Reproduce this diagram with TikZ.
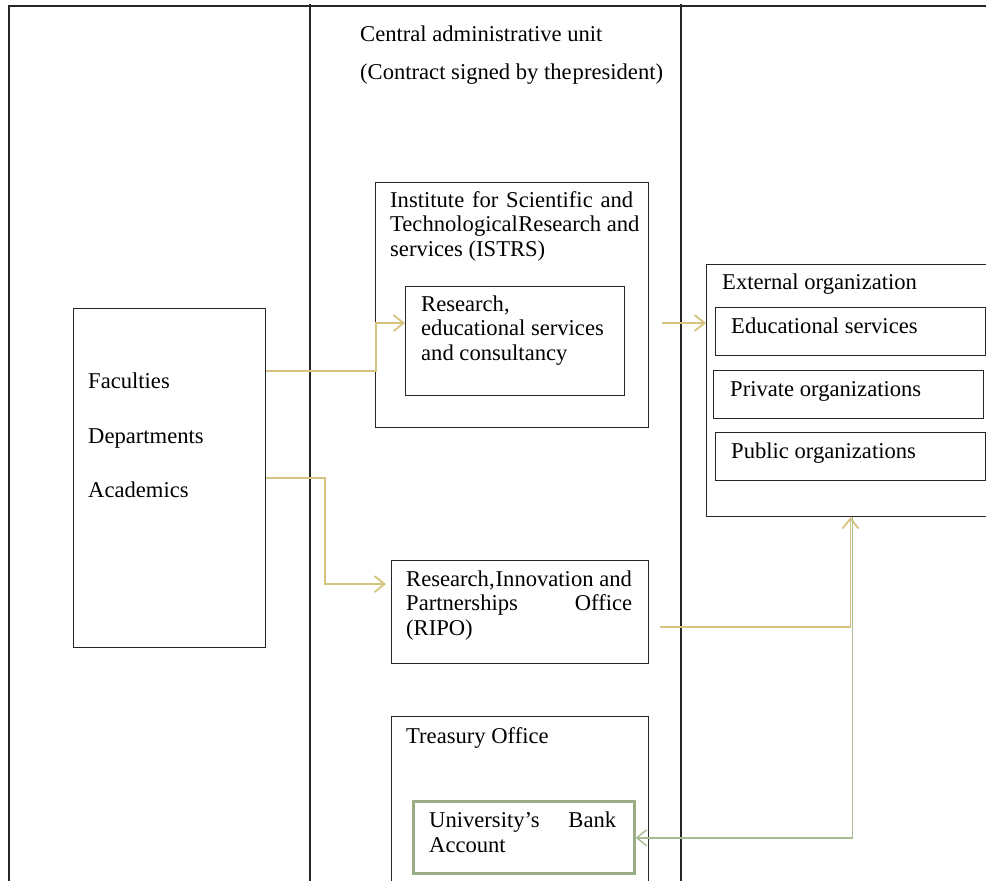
\documentclass[tikz,border=0pt]{standalone}
\usepackage{fontspec}
\setmainfont{Liberation Serif}
\usetikzlibrary{arrows.meta, positioning, calc}
\definecolor{cline}{HTML}{262626}
\definecolor{ctan}{HTML}{D6C37F}
\definecolor{cgreen}{HTML}{A8BC92}
\definecolor{cbank}{HTML}{9AAE85}
\tikzset{
  frame/.style={draw=cline, line width=1.3pt},
  box/.style={draw=cline, line width=1.1pt, anchor=north west, inner sep=0pt},
  txt/.style={anchor=base west, align=left, inner sep=0pt, font=\fontsize{22.6}{24.5}\selectfont},
  arrow/.style={-{Straight Barb[length=10pt, width=16pt]}, draw=ctan, line width=1.8pt},
  back/.style={-{Straight Barb[length=10pt, width=16pt]}, draw=cgreen, line width=1.4pt},
}
\begin{document}
\begin{tikzpicture}[x=1pt, y=-1pt]
  \useasboundingbox (0,0) rectangle (986,881);
  % columns
  \draw[frame] (9,881) -- (9,6) -- (986,6);
  \draw[frame] (310,4) -- (310,881);
  \draw[frame] (681,4) -- (681,881);
  \node[txt] (cau) at (360,41) {Central administrative unit};
  \node[txt] (contract) at (360,79) {(Contract signed by the\hspace{1pt}president)};

  % left column
  \node[box, minimum width=192, minimum height=339] (units) at (73,308) {};
  \node[txt] (fac) at (88,388) {Faculties};
  \node[txt] (dep) at (88,443) {Departments};
  \node[txt] (acad) at (88,497) {Academics};

  % middle column (multi-line texts sit on their last baseline)
  \node[box, minimum width=273, minimum height=245] (istrs) at (375,182) {};
  \node[txt] (istrs-txt) at (390,256) {\makebox[243pt][s]{Institute for Scientific and}\\Technological\hspace{0.5pt}Research and\\services (ISTRS)};
  \node[box, minimum width=219, minimum height=109] (rsc) at (405,286) {};
  \node[txt] (rsc-txt) at (421,360) {Research,\\educational services\\and consultancy};
  \node[box, minimum width=257, minimum height=103] (ripo) at (391,560) {};
  \node[txt] (ripo-txt) at (406,635) {Research,\hspace{1pt}Innovation and\\\makebox[226pt][s]{Partnerships\hfill Office}\\(RIPO)};
  \node[box, minimum width=257, minimum height=200] (treasury) at (391,716) {};
  \node[txt] (treasury-txt) at (406,743) {Treasury Office};
  \node[box, draw=cbank, line width=2.6pt, minimum width=221, minimum height=72] (bank) at (412,800) {};
  \node[txt] (bank-txt) at (429,852) {\makebox[187pt][s]{University’s\hfill Bank}\\Account};

  % right column
  \node[box, minimum width=288, minimum height=252] (ext) at (706,264) {};
  \node[txt] (ext-txt) at (722,289) {External organization};
  \node[box, minimum width=270, minimum height=48] (educ) at (715,307) {};
  \node[txt] (educ-txt) at (731,333) {Educational services};
  \node[box, minimum width=270, minimum height=48] (priv) at (713,370) {};
  \node[txt] (priv-txt) at (730,396) {Private organizations};
  \node[box, minimum width=270, minimum height=48] (publ) at (715,432) {};
  \node[txt] (publ-txt) at (731,458) {Public organizations};

  % flows
  \coordinate (istrs-out) at (662,323);
  \coordinate (ripo-out) at (660,627);
  \draw[arrow] ([yshift=107pt]units.east) -| ([xshift=-29pt, yshift=18pt]rsc.west) -- ([yshift=18pt]rsc.west);
  \draw[arrow] (istrs-out) -- (istrs-out -| ext.west);
  \draw[arrow] (units.east) -| ([xshift=-66pt, yshift=28pt]ripo.west) -- ([xshift=-5pt, yshift=28pt]ripo.west);
  \draw[arrow] (ripo-out) -| (ext.south);
  \draw[back] ([xshift=2pt]ext.south) |- ([yshift=-0.5pt]bank.east);
\end{tikzpicture}
\end{document}
